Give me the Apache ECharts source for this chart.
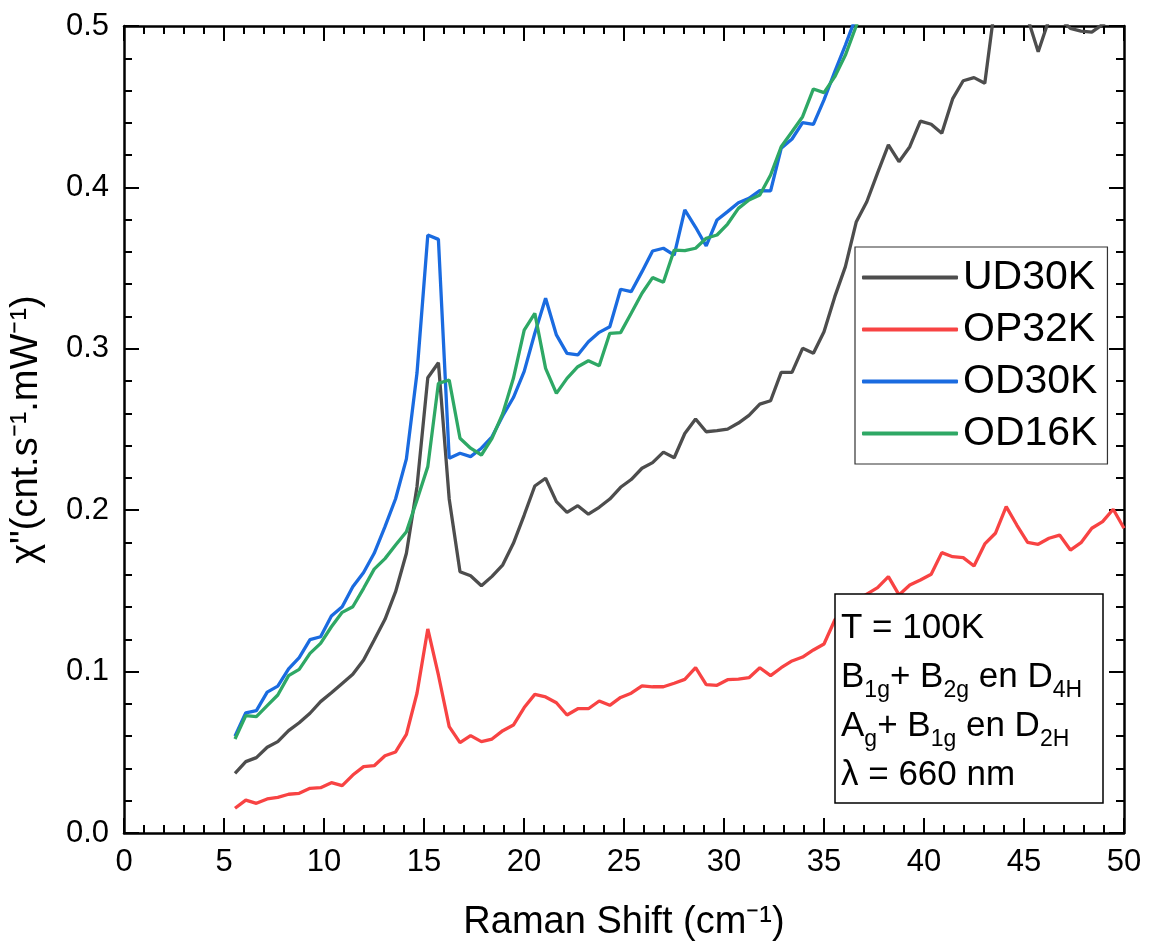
<!DOCTYPE html>
<html>
<head>
<meta charset="utf-8">
<script src="https://cdn.jsdelivr.net/npm/echarts@6/dist/echarts.min.js"></script>
<style>
html,body{margin:0;padding:0;background:#fff;}
#chart{width:1153px;height:950px;}
</style>
</head>
<body>
<div id="chart"></div>
<script>
// Raman shift grid (cm^-1)
const ramanShift = [5.55,6.09,6.62,7.16,7.69,8.23,8.76,9.30,9.83,10.37,
  10.91,11.44,11.98,12.51,13.05,13.58,14.12,14.65,15.19,15.72,
  16.26,16.80,17.33,17.87,18.40,18.94,19.47,20.01,20.54,21.08,
  21.62,22.15,22.69,23.22,23.76,24.29,24.83,25.36,25.90,26.43,
  26.97,27.51,28.04,28.58,29.11,29.65,30.18,30.72,31.25,31.79,
  32.33,32.86,33.40,33.93,34.47,35.00,35.54,36.07,36.61,37.14,
  37.68,38.22,38.75,39.29,39.82,40.36,40.89,41.43,41.96,42.50,
  43.04,43.57,44.11,44.64,45.18,45.71,46.25,46.78,47.32,47.85,
  48.39,48.93,49.46,50.00];

const ud30k = [0.0370,0.0442,0.0467,0.0531,0.0566,0.0634,0.0683,0.0742,0.0814,0.0869,
  0.0927,0.0983,0.1072,0.1196,0.1324,0.1495,0.1733,0.2146,0.2821,0.2914,
  0.2070,0.1619,0.1594,0.1532,0.1590,0.1662,0.1795,0.1970,0.2150,0.2198,
  0.2053,0.1987,0.2028,0.1975,0.2018,0.2069,0.2142,0.2190,0.2260,0.2295,
  0.2360,0.2325,0.2475,0.2565,0.2486,0.2493,0.2502,0.2540,0.2588,0.2657,
  0.2678,0.2854,0.2854,0.3003,0.2972,0.3106,0.3323,0.3509,0.3785,0.3911,
  0.4090,0.4263,0.4159,0.4252,0.4411,0.4391,0.4335,0.4548,0.4661,0.4680,
  0.4645,0.5150,0.5300,0.5200,0.5050,0.4841,0.5040,0.5050,0.4985,0.4968,
  0.4962,0.5010,0.5060,0.5100];

const op32k = [0.0153,0.0204,0.0184,0.0211,0.0221,0.0240,0.0246,0.0277,0.0281,0.0312,
  0.0293,0.0359,0.0411,0.0417,0.0479,0.0502,0.0611,0.0866,0.1264,0.0979,
  0.0659,0.0560,0.0603,0.0566,0.0582,0.0634,0.0669,0.0777,0.0859,0.0843,
  0.0807,0.0731,0.0770,0.0770,0.0818,0.0791,0.0840,0.0866,0.0912,0.0906,
  0.0906,0.0928,0.0952,0.1024,0.0919,0.0915,0.0950,0.0954,0.0962,0.1024,
  0.0975,0.1024,0.1066,0.1090,0.1134,0.1171,0.1320,0.1390,0.1440,0.1480,
  0.1520,0.1588,0.1475,0.1537,0.1568,0.1603,0.1737,0.1712,0.1706,0.1654,
  0.1791,0.1857,0.2022,0.1908,0.1801,0.1789,0.1826,0.1846,0.1753,0.1799,
  0.1888,0.1929,0.2006,0.1888];

const od30k = [0.0600,0.0745,0.0758,0.0873,0.0910,0.1017,0.1087,0.1198,0.1216,0.1344,
  0.1402,0.1526,0.1614,0.1733,0.1898,0.2071,0.2318,0.2850,0.3705,0.3678,
  0.2322,0.2353,0.2332,0.2384,0.2455,0.2585,0.2698,0.2860,0.3096,0.3313,
  0.3086,0.2972,0.2962,0.3044,0.3102,0.3137,0.3369,0.3354,0.3478,0.3606,
  0.3623,0.3581,0.3860,0.3753,0.3637,0.3798,0.3850,0.3905,0.3932,0.3980,
  0.3978,0.4242,0.4300,0.4401,0.4391,0.4542,0.4717,0.4882,0.5060,0.5250];

const od16k = [0.0582,0.0727,0.0721,0.0789,0.0855,0.0975,0.1014,0.1113,0.1175,0.1278,
  0.1367,0.1402,0.1516,0.1635,0.1700,0.1784,0.1867,0.2063,0.2270,0.2786,
  0.2807,0.2446,0.2384,0.2342,0.2445,0.2600,0.2817,0.3116,0.3220,0.2879,
  0.2724,0.2817,0.2889,0.2926,0.2895,0.3096,0.3100,0.3220,0.3344,0.3441,
  0.3412,0.3612,0.3608,0.3623,0.3685,0.3705,0.3773,0.3870,0.3922,0.3953,
  0.4077,0.4252,0.4345,0.4438,0.4610,0.4587,0.4686,0.4820,0.5000,0.5200];

const seriesNames = ['UD30K','OP32K','OD30K','OD16K'];
const seriesColors = ['#4d4d4d','#f84343','#1a6be0','#2ea865'];
const xTicks = {min:0, max:50, interval:5};
const yTicks = {min:0, max:0.5, interval:0.1};

const FONT = '"Liberation Sans", Arial, sans-serif';

function pairs(ys){ return ys.map((v,i)=>[ramanShift[i], v]); }

const chart = echarts.init(document.getElementById('chart'), null, {renderer:'canvas'});

const axisCommon = {
  axisLine:{show:true, onZero:false, lineStyle:{color:'#000', width:2.5}},
  axisTick:{show:true, inside:true, length:15, lineStyle:{color:'#000', width:2}},
  minorTick:{show:true, splitNumber:5, length:8, lineStyle:{color:'#000', width:2}},
  splitLine:{show:false},
  minorSplitLine:{show:false}
};

const option = {
  animation:false,
  backgroundColor:'#fff',
  grid:{left:124, right:29, top:26, bottom:117, containLabel:false},
  xAxis:[
    Object.assign({}, axisCommon, {
      type:'value', min:xTicks.min, max:xTicks.max, interval:xTicks.interval,
      position:'bottom',
      axisLabel:{show:true, margin:14, fontSize:31, color:'#000', fontFamily:FONT},
      name:'Raman Shift (cm\u207B\u00B9)', nameLocation:'middle', nameGap:71,
      nameTextStyle:{fontSize:38, color:'#000', fontFamily:FONT}
    }),
    Object.assign({}, axisCommon, {
      type:'value', min:xTicks.min, max:xTicks.max, interval:xTicks.interval,
      position:'top', axisLabel:{show:false}
    })
  ],
  yAxis:[
    Object.assign({}, axisCommon, {
      type:'value', min:yTicks.min, max:yTicks.max, interval:yTicks.interval,
      position:'left',
      axisLabel:{show:true, margin:15, fontSize:31, color:'#000', fontFamily:FONT,
        formatter:v=>v.toFixed(1)},
      name:'\u03C7"(cnt.s\u207B\u00B9.mW\u207B\u00B9)', nameLocation:'middle', nameGap:78,
      nameRotate:90,
      nameTextStyle:{fontSize:38, color:'#000', fontFamily:FONT}
    }),
    Object.assign({}, axisCommon, {
      type:'value', min:yTicks.min, max:yTicks.max, interval:yTicks.interval,
      position:'right', axisLabel:{show:false}
    })
  ],
  legend:{
    show:true, orient:'vertical', left:855, top:247,
    data:seriesNames.map(n=>({name:n, icon:'roundRect'})),
    backgroundColor:'#fff', borderColor:'#333', borderWidth:1.2,
    padding:[10,10,10,7],
    itemWidth:96, itemHeight:4, itemGap:11,
    textStyle:{fontSize:41, color:'#000', fontFamily:FONT},
    z:50
  },
  series:[ud30k, op32k, od30k, od16k].map((ys,k)=>({
    name:seriesNames[k], type:'line', data:pairs(ys),
    xAxisIndex:0, yAxisIndex:0,
    symbol:'none', showSymbol:false, clip:true,
    lineStyle:{color:seriesColors[k], width:3.3},
    itemStyle:{color:seriesColors[k]},
    z:2+k
  })),
  graphic:[
    {type:'rect', z:100, shape:{x:835, y:594, width:268, height:209},
      style:{fill:'#fff', stroke:'#000', lineWidth:1.5}},
    {type:'text', z:101, x:841, y:604,
      style:{
        text:'{m|T = 100K}\n{m|B}{s|1g}{m|+ B}{s|2g}{m| en D}{s|4H}\n{m|A}{s|g}{m|+ B}{s|1g}{m| en D}{s|2H}\n{m|\u03BB = 660 nm}',
        fill:'#000',
        rich:{
          m:{fontSize:35, lineHeight:49, fontFamily:FONT, fill:'#000'},
          s:{fontSize:23, lineHeight:22, verticalAlign:'bottom', fontFamily:FONT, fill:'#000'}
        }
      }}
  ]
};
chart.setOption(option);
</script>
</body>
</html>
